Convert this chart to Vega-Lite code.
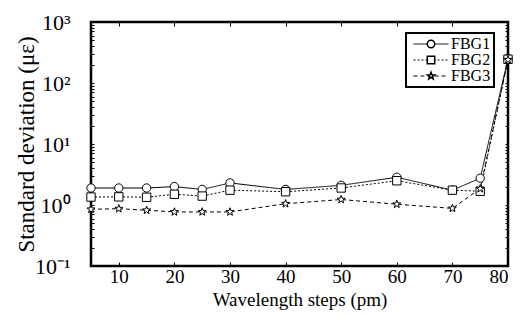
{
  "$schema": "https://vega.github.io/schema/vega-lite/v6.json",
  "autosize": {"type": "none"},
  "padding": {"left": 91, "top": 22, "right": 15, "bottom": 65},
  "width": 417,
  "height": 244,
  "background": "white",
  "config": {
    "view": {"stroke": "black", "strokeWidth": 2.5},
    "font": "Liberation Serif",
    "axis": {
      "labelFont": "Liberation Serif",
      "titleFont": "Liberation Serif",
      "labelColor": "black",
      "titleColor": "black",
      "tickColor": "black",
      "domain": false,
      "grid": false,
      "labelFontSize": 19,
      "titleFontSize": 19,
      "titleFontWeight": "normal"
    },
    "legend": {"labelFont": "Liberation Serif"}
  },
  "data": {
    "values": [
      {"step": 5, "series": "FBG1", "sd": 1.9},
      {"step": 10, "series": "FBG1", "sd": 1.9},
      {"step": 15, "series": "FBG1", "sd": 1.9},
      {"step": 20, "series": "FBG1", "sd": 2.0},
      {"step": 25, "series": "FBG1", "sd": 1.8},
      {"step": 30, "series": "FBG1", "sd": 2.3},
      {"step": 40, "series": "FBG1", "sd": 1.8},
      {"step": 50, "series": "FBG1", "sd": 2.1},
      {"step": 60, "series": "FBG1", "sd": 2.85},
      {"step": 70, "series": "FBG1", "sd": 1.75},
      {"step": 75, "series": "FBG1", "sd": 2.75},
      {"step": 80, "series": "FBG1", "sd": 250},
      {"step": 5, "series": "FBG2", "sd": 1.35},
      {"step": 10, "series": "FBG2", "sd": 1.36},
      {"step": 15, "series": "FBG2", "sd": 1.34},
      {"step": 20, "series": "FBG2", "sd": 1.5},
      {"step": 25, "series": "FBG2", "sd": 1.4},
      {"step": 30, "series": "FBG2", "sd": 1.75},
      {"step": 40, "series": "FBG2", "sd": 1.65},
      {"step": 50, "series": "FBG2", "sd": 1.9},
      {"step": 60, "series": "FBG2", "sd": 2.5},
      {"step": 70, "series": "FBG2", "sd": 1.75},
      {"step": 75, "series": "FBG2", "sd": 1.68},
      {"step": 80, "series": "FBG2", "sd": 245},
      {"step": 5, "series": "FBG3", "sd": 0.85},
      {"step": 10, "series": "FBG3", "sd": 0.87},
      {"step": 15, "series": "FBG3", "sd": 0.82},
      {"step": 20, "series": "FBG3", "sd": 0.77},
      {"step": 25, "series": "FBG3", "sd": 0.77},
      {"step": 30, "series": "FBG3", "sd": 0.77},
      {"step": 40, "series": "FBG3", "sd": 1.05},
      {"step": 50, "series": "FBG3", "sd": 1.23},
      {"step": 60, "series": "FBG3", "sd": 1.03},
      {"step": 70, "series": "FBG3", "sd": 0.88},
      {"step": 75, "series": "FBG3", "sd": 1.85},
      {"step": 80, "series": "FBG3", "sd": 240}
    ]
  },
  "layer": [
    {
      "mark": {"type": "line", "color": "black", "strokeWidth": 1},
      "encoding": {
        "x": {
          "field": "step", "type": "quantitative",
          "scale": {"domain": [5, 80], "nice": false, "zero": false},
          "axis": {"orient": "bottom", "values": [10, 20, 30, 40, 50, 60, 70, 80], "tickSize": -4, "labelPadding": 5, "title": "Wavelength steps (pm)", "titlePadding": 4}
        },
        "y": {
          "field": "sd", "type": "quantitative",
          "scale": {"type": "log", "domain": [0.1, 1000], "nice": false},
          "axis": {
            "orient": "left",
            "values": [0.1, 0.2, 0.3, 0.4, 0.5, 0.6, 0.7, 0.8, 0.9, 1, 2, 3, 4, 5, 6, 7, 8, 9, 10, 20, 30, 40, 50, 60, 70, 80, 90, 100, 200, 300, 400, 500, 600, 700, 800, 900, 1000],
            "labelExpr": "datum.value==0.1?'10⁻¹':datum.value==1?'10⁰':datum.value==10?'10¹':datum.value==100?'10²':datum.value==1000?'10³':''",
            "labelFontSize": 22,
            "tickSize": -3,
            "labelPadding": 24,
            "title": "Standard deviation (με)",
            "titleFontSize": 23,
            "titleX": -58,
            "titleY": 122,
            "titleAngle": -90,
            "titleAlign": "center",
            "titleBaseline": "alphabetic"
          }
        },
        "detail": {"field": "series"},
        "strokeDash": {
          "field": "series", "type": "nominal",
          "scale": {"domain": ["FBG1", "FBG2", "FBG3"], "range": [[1, 0], [2, 2], [4, 3]]},
          "legend": {
            "title": null,
            "orient": "none",
            "legendX": 315,
            "legendY": 11,
            "strokeColor": "black",
            "fillColor": "white",
            "padding": 3,
            "symbolType": "M-3.5,0H3.5",
            "symbolSize": 100,
            "symbolStrokeColor": "black",
            "symbolStrokeWidth": 1,
            "symbolOffset": 14,
            "labelOffset": 12,
            "labelFontSize": 16,
            "labelColor": "black",
            "rowPadding": 0,
            "zindex": 1,
            "encode": {"legend": {"update": {"strokeWidth": {"value": 2}}}}
          }
        }
      }
    },
    {
      "mark": {"type": "point", "filled": false, "fill": "white", "stroke": "black", "strokeWidth": 1, "size": 70, "opacity": 1},
      "encoding": {
        "x": {
          "field": "step", "type": "quantitative",
          "axis": {"orient": "top", "values": [10, 20, 30, 40, 50, 60, 70, 80], "tickSize": -4, "labels": false, "title": null}
        },
        "y": {
          "field": "sd", "type": "quantitative",
          "axis": {
            "orient": "right",
            "values": [0.1, 0.2, 0.3, 0.4, 0.5, 0.6, 0.7, 0.8, 0.9, 1, 2, 3, 4, 5, 6, 7, 8, 9, 10, 20, 30, 40, 50, 60, 70, 80, 90, 100, 200, 300, 400, 500, 600, 700, 800, 900, 1000],
            "tickSize": -3, "labels": false, "title": null
          }
        },
        "shape": {
          "field": "series", "type": "nominal",
          "scale": {"domain": ["FBG1", "FBG2", "FBG3"], "range": ["circle", "square", "M0,-1L0.235,-0.324L0.951,-0.309L0.38,0.124L0.588,0.809L0,0.4L-0.588,0.809L-0.38,0.124L-0.951,-0.309L-0.235,-0.324Z"]},
          "legend": {
            "title": null,
            "orient": "none",
            "legendX": 315,
            "legendY": 11,
            "padding": 3,
            "symbolSize": 55,
            "symbolOffset": 14,
            "labelOffset": 12,
            "labelFontSize": 16,
            "labelOpacity": 0,
            "rowPadding": 0,
            "zindex": 2,
            "encode": {
              "symbols": {
                "update": {
                  "fill": {"value": "white"},
                  "stroke": {"value": "black"},
                  "strokeWidth": {"value": 1},
                  "opacity": {"value": 1}
                }
              }
            }
          }
        }
      }
    }
  ],
  "resolve": {"legend": {"shape": "independent", "strokeDash": "independent"}}
}
